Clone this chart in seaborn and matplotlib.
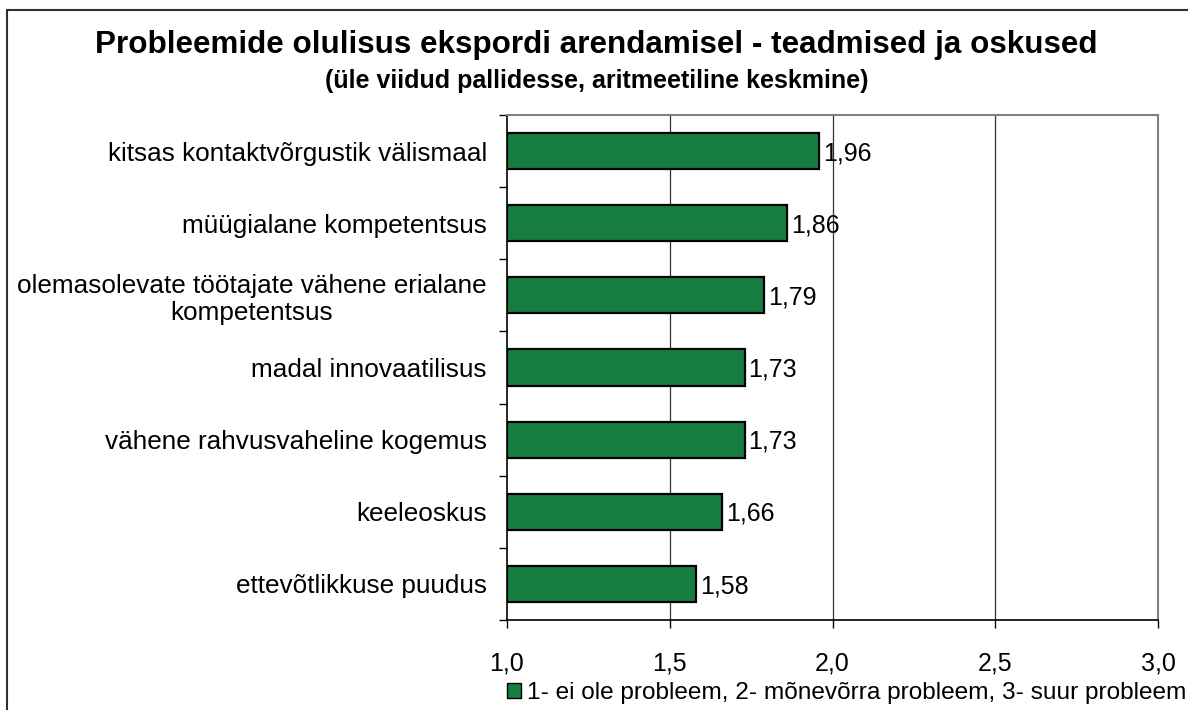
import matplotlib
matplotlib.use("Agg")
import matplotlib.pyplot as plt
import matplotlib.patches as mpatches
import seaborn as sns
import pandas as pd
import numpy as np

categories = [
    "kitsas kontaktvõrgustik välismaal",
    "müügialane kompetentsus",
    "olemasolevate töötajate vähene erialane\nkompetentsus",
    "madal innovaatilisus",
    "vähene rahvusvaheline kogemus",
    "keeleoskus",
    "ettevõtlikkuse puudus",
]
values = [1.96, 1.86, 1.79, 1.73, 1.73, 1.66, 1.58]
x_ticks = [1.0, 1.5, 2.0, 2.5, 3.0]
title = "Probleemide olulisus ekspordi arendamisel - teadmised ja oskused"
subtitle = "(üle viidud pallidesse, aritmeetiline keskmine)"
legend_label = "1- ei ole probleem, 2- mõnevõrra probleem, 3- suur probleem"

sns.set_theme(style="white")
plt.rcParams["font.family"] = ["Liberation Sans", "DejaVu Sans"]
plt.rcParams["text.color"] = "black"
plt.rcParams["xtick.color"] = "black"
plt.rcParams["ytick.color"] = "black"

df = pd.DataFrame({"cat": categories, "val": values})

W, H = 1188, 710
fig = plt.figure(figsize=(W / 100, H / 100), dpi=100)
ax = fig.add_axes([507 / W, 1 - 620 / H, (1158 - 507) / W, (620 - 115) / H])

bar_color = "#177d40"
sns.barplot(data=df, x="val", y="cat", orient="h", color=bar_color,
            saturation=1, width=0.5, edgecolor="black", linewidth=1.6, ax=ax)
# bars start at 1.0 (axis origin)
for p in ax.patches:
    w = p.get_width()
    p.set_x(1.0)
    p.set_width(w - 1.0)

ax.set_xlim(1.0, 3.0)
ax.set_ylim(len(categories) - 0.5, -0.5)
ax.set_xlabel("")
ax.set_ylabel("")

ax.set_xticks(x_ticks)
ax.set_xticklabels([f"{t:.1f}".replace(".", ",") for t in x_ticks], fontsize=18)
ax.tick_params(axis="x", direction="out", length=6, width=1, color="black",
               pad=17, labelcolor="black", bottom=True)

# y: major ticks at boundaries (no labels), minor at centers with labels
ax.set_yticks(np.arange(-0.5, len(categories), 1.0))
ax.set_yticklabels([])
ax.set_yticks(np.arange(len(categories)), minor=True)
ax.set_yticklabels(categories, minor=True, fontsize=18.8, ha="right",
                   multialignment="center", linespacing=1.15)
ax.tick_params(axis="y", which="major", direction="out", length=6, width=1,
               color="black", left=True)
ax.tick_params(axis="y", which="minor", length=0, pad=14.5, labelcolor="black")

for x in x_ticks[1:-1]:
    ax.axvline(x, color="#303030", linewidth=0.9, zorder=0)

for s in ["left", "bottom"]:
    ax.spines[s].set_color("black")
    ax.spines[s].set_linewidth(1.2)
for s in ["top", "right"]:
    ax.spines[s].set_color("#808080")
    ax.spines[s].set_linewidth(1.5)

for i, v in enumerate(values):
    ax.text(v + 0.012, i + 0.03, f"{v:.2f}".replace(".", ","), va="center",
            ha="left", fontsize=18, color="black")

fig.text(596 / W, 1 - 45 / H, title, ha="center", va="center",
         fontsize=22.6, fontweight="bold", color="black")
fig.text(597 / W, 1 - 81 / H, subtitle, ha="center", va="center",
         fontsize=18, fontweight="bold", color="black")

handle = mpatches.Patch(facecolor=bar_color, edgecolor="black", linewidth=1)
fig.legend([handle], [legend_label], loc="center right",
           bbox_to_anchor=(1186 / W, 1 - 693 / H), frameon=False,
           fontsize=17.6, handlelength=0.55, handleheight=0.55,
           handletextpad=0.25, borderpad=0, borderaxespad=0)

border = mpatches.Rectangle((7 / W, -0.1), 1.2, 1 - 10 / H + 0.1,
                            transform=fig.transFigure, fill=False,
                            edgecolor="#303030", linewidth=1.5)
fig.patches.append(border)

fig.savefig("out.png", dpi=100)
